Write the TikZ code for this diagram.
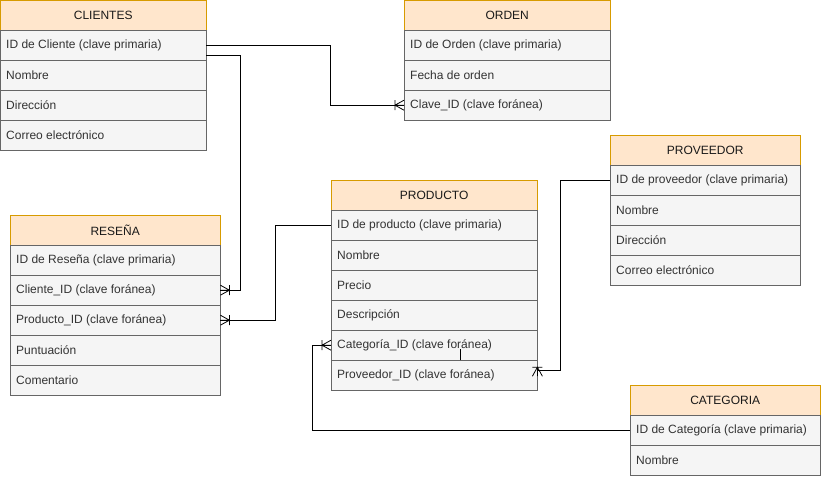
\documentclass[tikz,border=0pt]{standalone}
\usepackage{fontspec}
\setmainfont{Liberation Sans}
\usepackage{xcolor}
\definecolor{headfill}{HTML}{FFE6CC}
\definecolor{headline}{HTML}{D79B00}
\definecolor{rowfill}{HTML}{F5F5F5}
\definecolor{rowline}{HTML}{666666}
\definecolor{rowtext}{HTML}{333333}
\tikzset{
  tblhead/.style={draw=headline,fill=headfill,anchor=north west,minimum height=30pt,
    inner sep=0pt,font=\fontsize{12}{14}\selectfont,text=black!90},
  tblrow/.style={draw=rowline,fill=rowfill,anchor=north west,minimum height=30pt,
    inner sep=0pt,font=\fontsize{12}{14}\selectfont,text=rowtext},
  rowtxt/.style={anchor=west,inner sep=0pt,font=\fontsize{12}{14}\selectfont,text=rowtext},
  rel/.style={line width=0.9pt,black},
  crowfoot/.pic={\draw[line width=0.8pt] (0,0)--(9,0) (0,5)--(9,0)--(0,-5) (9,5)--(9,-5);}
}
\begin{document}
\begin{tikzpicture}[x=1pt,y=-1pt]
\useasboundingbox (0,0) rectangle (822,477);
% CLIENTES
\node[tblhead,minimum width=206pt] (cli0) at (0,0) {CLIENTES};
\node[tblrow,minimum width=206pt] (cli1) at (0,30) {};
\node[tblrow,minimum width=206pt] (cli2) at (0,60) {};
\node[tblrow,minimum width=206pt] (cli3) at (0,90) {};
\node[tblrow,minimum width=206pt] (cli4) at (0,120) {};
\node[rowtxt] at (6,45) {ID de Cliente (clave primaria)};
\node[rowtxt] at (6,75) {Nombre};
\node[rowtxt] at (6,105) {Dirección};
\node[rowtxt] at (6,135) {Correo electrónico};
% ORDEN
\node[tblhead,minimum width=206pt] (ord0) at (404,0) {ORDEN};
\node[tblrow,minimum width=206pt] (ord1) at (404,30) {};
\node[tblrow,minimum width=206pt] (ord2) at (404,60) {};
\node[tblrow,minimum width=206pt] (ord3) at (404,90) {};
\node[rowtxt] at (410,45) {ID de Orden (clave primaria)};
\node[rowtxt] at (410,75) {Fecha de orden};
\node[rowtxt] at (410,105) {Clave\_ID (clave foránea)};
% PROVEEDOR
\node[tblhead,minimum width=190pt] (prv0) at (610,135) {PROVEEDOR};
\node[tblrow,minimum width=190pt] (prv1) at (610,165) {};
\node[tblrow,minimum width=190pt] (prv2) at (610,195) {};
\node[tblrow,minimum width=190pt] (prv3) at (610,225) {};
\node[tblrow,minimum width=190pt] (prv4) at (610,255) {};
\node[rowtxt] at (616,180) {ID de proveedor (clave primaria)};
\node[rowtxt] at (616,210) {Nombre};
\node[rowtxt] at (616,240) {Dirección};
\node[rowtxt] at (616,270) {Correo electrónico};
% PRODUCTO
\node[tblhead,minimum width=206pt] (prd0) at (331,180) {PRODUCTO};
\node[tblrow,minimum width=206pt] (prd1) at (331,210) {};
\node[tblrow,minimum width=206pt] (prd2) at (331,240) {};
\node[tblrow,minimum width=206pt] (prd3) at (331,270) {};
\node[tblrow,minimum width=206pt] (prd4) at (331,300) {};
\node[tblrow,minimum width=206pt] (prd5) at (331,330) {};
\node[tblrow,minimum width=206pt] (prd6) at (331,360) {};
\node[rowtxt] at (337,225) {ID de producto (clave primaria)};
\node[rowtxt] at (337,255) {Nombre};
\node[rowtxt] at (337,285) {Precio};
\node[rowtxt] at (337,315) {Descripción};
\node[rowtxt] at (337,345) {Categoría\_ID (clave foránea)};
\node[rowtxt] at (337,375) {Proveedor\_ID (clave foránea)};
% RESEÑA
\node[tblhead,minimum width=210pt] (res0) at (10,215) {RESEÑA};
\node[tblrow,minimum width=210pt] (res1) at (10,245) {};
\node[tblrow,minimum width=210pt] (res2) at (10,275) {};
\node[tblrow,minimum width=210pt] (res3) at (10,305) {};
\node[tblrow,minimum width=210pt] (res4) at (10,335) {};
\node[tblrow,minimum width=210pt] (res5) at (10,365) {};
\node[rowtxt] at (16,260) {ID de Reseña (clave primaria)};
\node[rowtxt] at (16,290) {Cliente\_ID (clave foránea)};
\node[rowtxt] at (16,320) {Producto\_ID (clave foránea)};
\node[rowtxt] at (16,350) {Puntuación};
\node[rowtxt] at (16,380) {Comentario};
% CATEGORIA
\node[tblhead,minimum width=190pt] (cat0) at (630,385) {CATEGORIA};
\node[tblrow,minimum width=190pt] (cat1) at (630,415) {};
\node[tblrow,minimum width=190pt] (cat2) at (630,445) {};
\node[rowtxt] at (636,430) {ID de Categoría (clave primaria)};
\node[rowtxt] at (636,460) {Nombre};
% relations
\draw[rel] (cli1.east) -- ++(124,0) |- (ord3.west);
\pic[rotate=180] at (ord3.west) {crowfoot};
\draw[rel] ([yshift=-10pt]cli1.east) -- ++(34,0) |- (res2.east);
\pic at (res2.east) {crowfoot};
\draw[rel] (prd1.west) -- ++(-56,0) |- (res3.east);
\pic at (res3.east) {crowfoot};
\draw[rel] (prv1.west) -- ++(-50,0) |- ([yshift=5pt]prd6.east);
\pic[rotate=90] at ([yshift=-1pt]prd6.east) {crowfoot};
\draw[rel] (cat1.west) -- ++(-318,0) |- (prd5.west);
\pic[rotate=180] at (prd5.west) {crowfoot};
\draw[rel] ([xshift=26pt]prd5.south) -- ++(0,-11);
\end{tikzpicture}
\end{document}
